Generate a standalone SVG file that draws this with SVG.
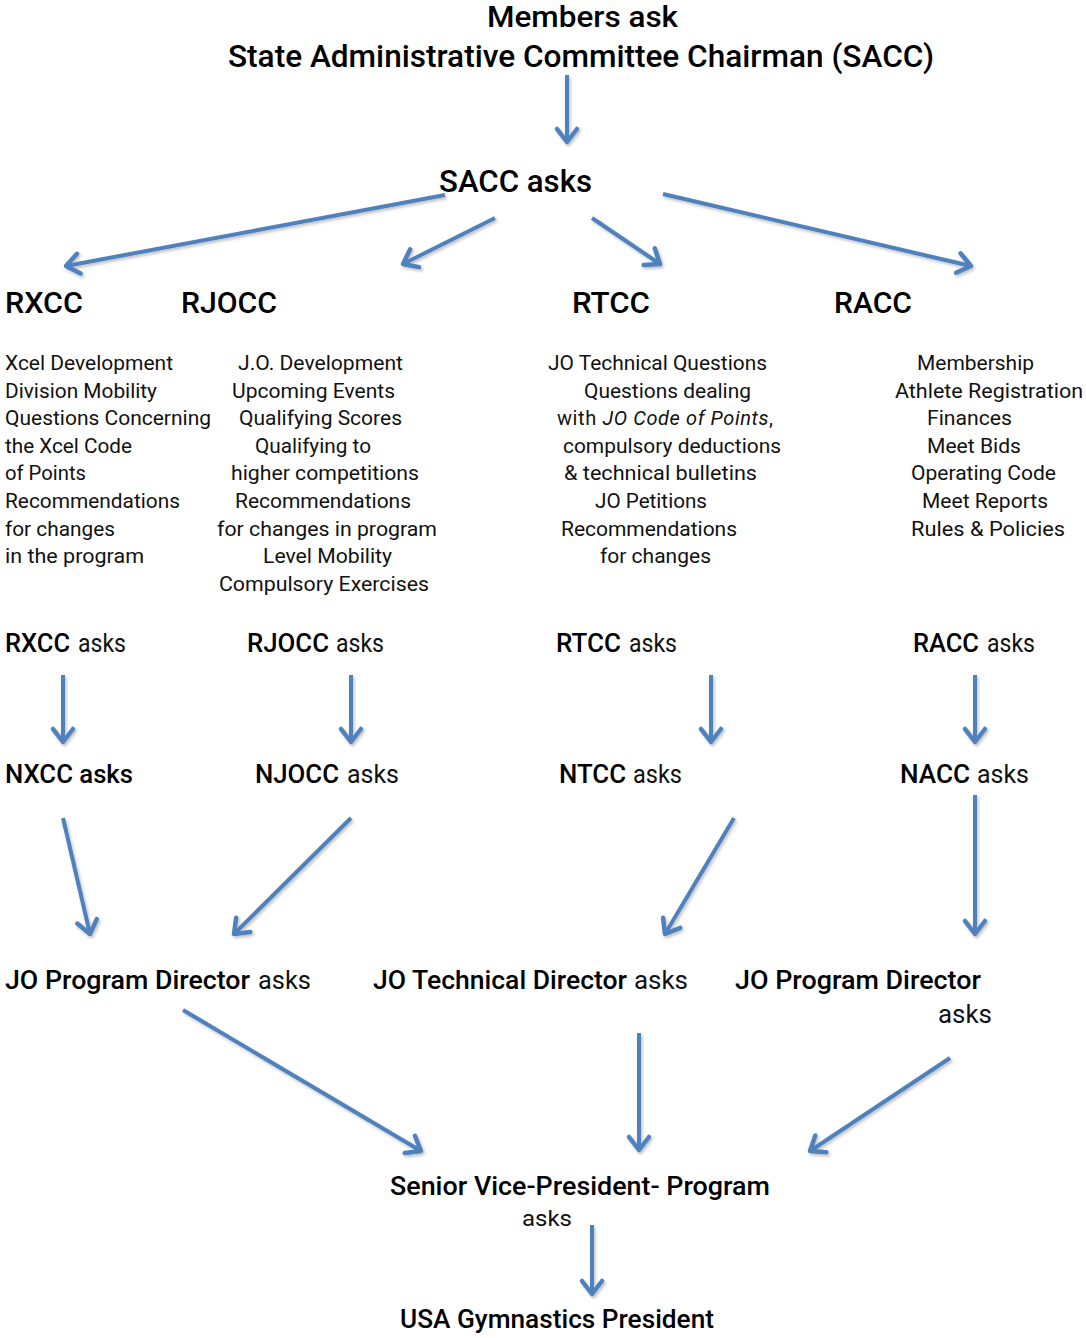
<svg xmlns="http://www.w3.org/2000/svg" width="1086" height="1338" viewBox="0 0 1086 1338">
<style>
.h{font-family:Roboto,"Liberation Sans",sans-serif;font-weight:500;fill:#000}
.b{font-family:Roboto,"Liberation Sans",sans-serif;font-weight:400;fill:#111;font-size:20px}
.a{font-family:Roboto,"Liberation Sans",sans-serif;font-weight:400;fill:#111}
.c{stroke:#4F81BD;stroke-width:4;fill:none;marker-end:url(#arr)}
</style>
<defs>
<marker id="arr" markerUnits="userSpaceOnUse" viewBox="-18 -14 22 28" markerWidth="22" markerHeight="28" refX="0" refY="0" orient="auto">
<path d="M-13,-10 L0,0 L-13,10" stroke="#4F81BD" stroke-width="4.5" fill="none" stroke-linecap="round" stroke-linejoin="round"/>
</marker>
<filter id="sh" filterUnits="userSpaceOnUse" x="0" y="0" width="1086" height="1338">
<feDropShadow dx="1.5" dy="2" stdDeviation="1.5" flood-color="#000" flood-opacity="0.25"/>
</filter>
</defs>
<rect width="1086" height="1338" fill="#fff"/>

<g id="connectors" filter="url(#sh)">
<line class="c" x1="567" y1="75" x2="567" y2="142"/>
<line class="c" x1="445" y1="195" x2="66" y2="266"/>
<line class="c" x1="495" y1="218" x2="403" y2="264"/>
<line class="c" x1="592" y1="218" x2="660" y2="264"/>
<line class="c" x1="663" y1="194" x2="971" y2="266"/>
<line class="c" x1="63" y1="675" x2="63" y2="742"/>
<line class="c" x1="351" y1="675" x2="351" y2="742"/>
<line class="c" x1="711" y1="675" x2="711" y2="742"/>
<line class="c" x1="975" y1="675" x2="975" y2="742"/>
<line class="c" x1="63" y1="818" x2="90" y2="934"/>
<line class="c" x1="351" y1="818" x2="234" y2="934"/>
<line class="c" x1="734" y1="818" x2="665" y2="934"/>
<line class="c" x1="975" y1="795" x2="975" y2="934"/>
<line class="c" x1="183" y1="1010" x2="421" y2="1151"/>
<line class="c" x1="639" y1="1033" x2="639" y2="1150"/>
<line class="c" x1="950" y1="1058" x2="810" y2="1151"/>
<line class="c" x1="592" y1="1225" x2="592" y2="1294"/>
</g>

<g id="members">
<text class="h" x="487" y="27" font-size="30" textLength="191" lengthAdjust="spacingAndGlyphs">Members ask</text>
<text class="h" x="228" y="67" font-size="31" textLength="706" lengthAdjust="spacingAndGlyphs">State Administrative Committee Chairman (SACC)</text>
</g>
<g id="sacc">
<text class="h" x="439" y="192" font-size="31" textLength="153" lengthAdjust="spacingAndGlyphs">SACC asks</text>
</g>

<g id="rxcc">
<text class="h" x="5" y="313" font-size="30" textLength="78" lengthAdjust="spacingAndGlyphs">RXCC</text>
<text class="b" x="5" y="370" textLength="168" lengthAdjust="spacingAndGlyphs">Xcel Development</text>
<text class="b" x="5" y="398" textLength="152" lengthAdjust="spacingAndGlyphs">Division Mobility</text>
<text class="b" x="5" y="425" textLength="206" lengthAdjust="spacingAndGlyphs">Questions Concerning</text>
<text class="b" x="5" y="453" textLength="127" lengthAdjust="spacingAndGlyphs">the Xcel Code</text>
<text class="b" x="5" y="480" textLength="81" lengthAdjust="spacingAndGlyphs">of Points</text>
<text class="b" x="5" y="508" textLength="175" lengthAdjust="spacingAndGlyphs">Recommendations</text>
<text class="b" x="5" y="536" textLength="110" lengthAdjust="spacingAndGlyphs">for changes</text>
<text class="b" x="5" y="563" textLength="139" lengthAdjust="spacingAndGlyphs">in the program</text>
</g>

<g id="rjocc">
<text class="h" x="181" y="313" font-size="30" textLength="96" lengthAdjust="spacingAndGlyphs">RJOCC</text>
<text class="b" x="238" y="370" textLength="165" lengthAdjust="spacingAndGlyphs">J.O. Development</text>
<text class="b" x="232" y="398" textLength="163" lengthAdjust="spacingAndGlyphs">Upcoming Events</text>
<text class="b" x="239" y="425" textLength="163" lengthAdjust="spacingAndGlyphs">Qualifying Scores</text>
<text class="b" x="255" y="453" textLength="116" lengthAdjust="spacingAndGlyphs">Qualifying to</text>
<text class="b" x="231" y="480" textLength="188" lengthAdjust="spacingAndGlyphs">higher competitions</text>
<text class="b" x="235" y="508" textLength="176" lengthAdjust="spacingAndGlyphs">Recommendations</text>
<text class="b" x="217" y="536" textLength="220" lengthAdjust="spacingAndGlyphs">for changes in program</text>
<text class="b" x="263" y="563" textLength="129" lengthAdjust="spacingAndGlyphs">Level Mobility</text>
<text class="b" x="219" y="591" textLength="210" lengthAdjust="spacingAndGlyphs">Compulsory Exercises</text>
</g>

<g id="rtcc">
<text class="h" x="572" y="313" font-size="30" textLength="78" lengthAdjust="spacingAndGlyphs">RTCC</text>
<text class="b" x="548" y="370" textLength="219" lengthAdjust="spacingAndGlyphs">JO Technical Questions</text>
<text class="b" x="584" y="398" textLength="167" lengthAdjust="spacingAndGlyphs">Questions dealing</text>
<text class="b" x="557" y="425" textLength="216" lengthAdjust="spacing">with <tspan font-style="italic">JO Code of Points</tspan>,</text>
<text class="b" x="563" y="453" textLength="218" lengthAdjust="spacingAndGlyphs">compulsory deductions</text>
<text class="b" x="564" y="480" textLength="193" lengthAdjust="spacingAndGlyphs">&amp; technical bulletins</text>
<text class="b" x="595" y="508" textLength="112" lengthAdjust="spacingAndGlyphs">JO Petitions</text>
<text class="b" x="561" y="536" textLength="176" lengthAdjust="spacingAndGlyphs">Recommendations</text>
<text class="b" x="600" y="563" textLength="111" lengthAdjust="spacingAndGlyphs">for changes</text>
</g>

<g id="racc">
<text class="h" x="834" y="313" font-size="30" textLength="78" lengthAdjust="spacingAndGlyphs">RACC</text>
<text class="b" x="917" y="370" textLength="117" lengthAdjust="spacingAndGlyphs">Membership</text>
<text class="b" x="895" y="398" textLength="188" lengthAdjust="spacingAndGlyphs">Athlete Registration</text>
<text class="b" x="927" y="425" textLength="85" lengthAdjust="spacingAndGlyphs">Finances</text>
<text class="b" x="927" y="453" textLength="94" lengthAdjust="spacingAndGlyphs">Meet Bids</text>
<text class="b" x="911" y="480" textLength="145" lengthAdjust="spacingAndGlyphs">Operating Code</text>
<text class="b" x="922" y="508" textLength="126" lengthAdjust="spacingAndGlyphs">Meet Reports</text>
<text class="b" x="911" y="536" textLength="154" lengthAdjust="spacingAndGlyphs">Rules &amp; Policies</text>
</g>

<g id="rxcc-asks">
<text class="h" x="5" y="652" font-size="25" textLength="65" lengthAdjust="spacingAndGlyphs">RXCC</text>
<text class="a" x="78" y="652" font-size="25" textLength="48" lengthAdjust="spacingAndGlyphs">asks</text>
</g>
<g id="rjocc-asks">
<text class="h" x="247" y="652" font-size="25" textLength="82" lengthAdjust="spacingAndGlyphs">RJOCC</text>
<text class="a" x="336" y="652" font-size="25" textLength="48" lengthAdjust="spacingAndGlyphs">asks</text>
</g>
<g id="rtcc-asks">
<text class="h" x="556" y="652" font-size="25" textLength="65" lengthAdjust="spacingAndGlyphs">RTCC</text>
<text class="a" x="629" y="652" font-size="25" textLength="48" lengthAdjust="spacingAndGlyphs">asks</text>
</g>
<g id="racc-asks">
<text class="h" x="913" y="652" font-size="25" textLength="66" lengthAdjust="spacingAndGlyphs">RACC</text>
<text class="a" x="987" y="652" font-size="25" textLength="48" lengthAdjust="spacingAndGlyphs">asks</text>
</g>

<g id="nxcc-asks">
<text class="h" x="5" y="783" font-size="25" font-weight="700" textLength="128" lengthAdjust="spacingAndGlyphs">NXCC asks</text>
</g>
<g id="njocc-asks">
<text class="h" x="255" y="783" font-size="25" textLength="84" lengthAdjust="spacingAndGlyphs">NJOCC</text>
<text class="a" x="347" y="783" font-size="25" textLength="52" lengthAdjust="spacingAndGlyphs">asks</text>
</g>
<g id="ntcc-asks">
<text class="h" x="559" y="783" font-size="25" textLength="67" lengthAdjust="spacingAndGlyphs">NTCC</text>
<text class="a" x="633" y="783" font-size="25" textLength="49" lengthAdjust="spacingAndGlyphs">asks</text>
</g>
<g id="nacc-asks">
<text class="h" x="900" y="783" font-size="25" textLength="70" lengthAdjust="spacingAndGlyphs">NACC</text>
<text class="a" x="977" y="783" font-size="25" textLength="52" lengthAdjust="spacingAndGlyphs">asks</text>
</g>

<g id="jo-program-director-1">
<text class="h" x="5" y="989" font-size="25" textLength="245" lengthAdjust="spacingAndGlyphs">JO Program Director</text>
<text class="a" x="258" y="989" font-size="25" textLength="53" lengthAdjust="spacingAndGlyphs">asks</text>
</g>
<g id="jo-technical-director">
<text class="h" x="373" y="989" font-size="25" textLength="254" lengthAdjust="spacingAndGlyphs">JO Technical Director</text>
<text class="a" x="634" y="989" font-size="25" textLength="54" lengthAdjust="spacingAndGlyphs">asks</text>
</g>
<g id="jo-program-director-2">
<text class="h" x="735" y="989" font-size="25" textLength="246" lengthAdjust="spacingAndGlyphs">JO Program Director</text>
<text class="a" x="938" y="1023" font-size="25" textLength="54" lengthAdjust="spacingAndGlyphs">asks</text>
</g>

<g id="svp-program">
<text class="h" x="390" y="1195" font-size="25" textLength="380" lengthAdjust="spacingAndGlyphs">Senior Vice-President- Program</text>
<text class="a" x="522" y="1226" font-size="22" textLength="50" lengthAdjust="spacingAndGlyphs">asks</text>
</g>
<g id="usag-president">
<text class="h" x="400" y="1328" font-size="25" textLength="314" lengthAdjust="spacingAndGlyphs">USA Gymnastics President</text>
</g>
</svg>
